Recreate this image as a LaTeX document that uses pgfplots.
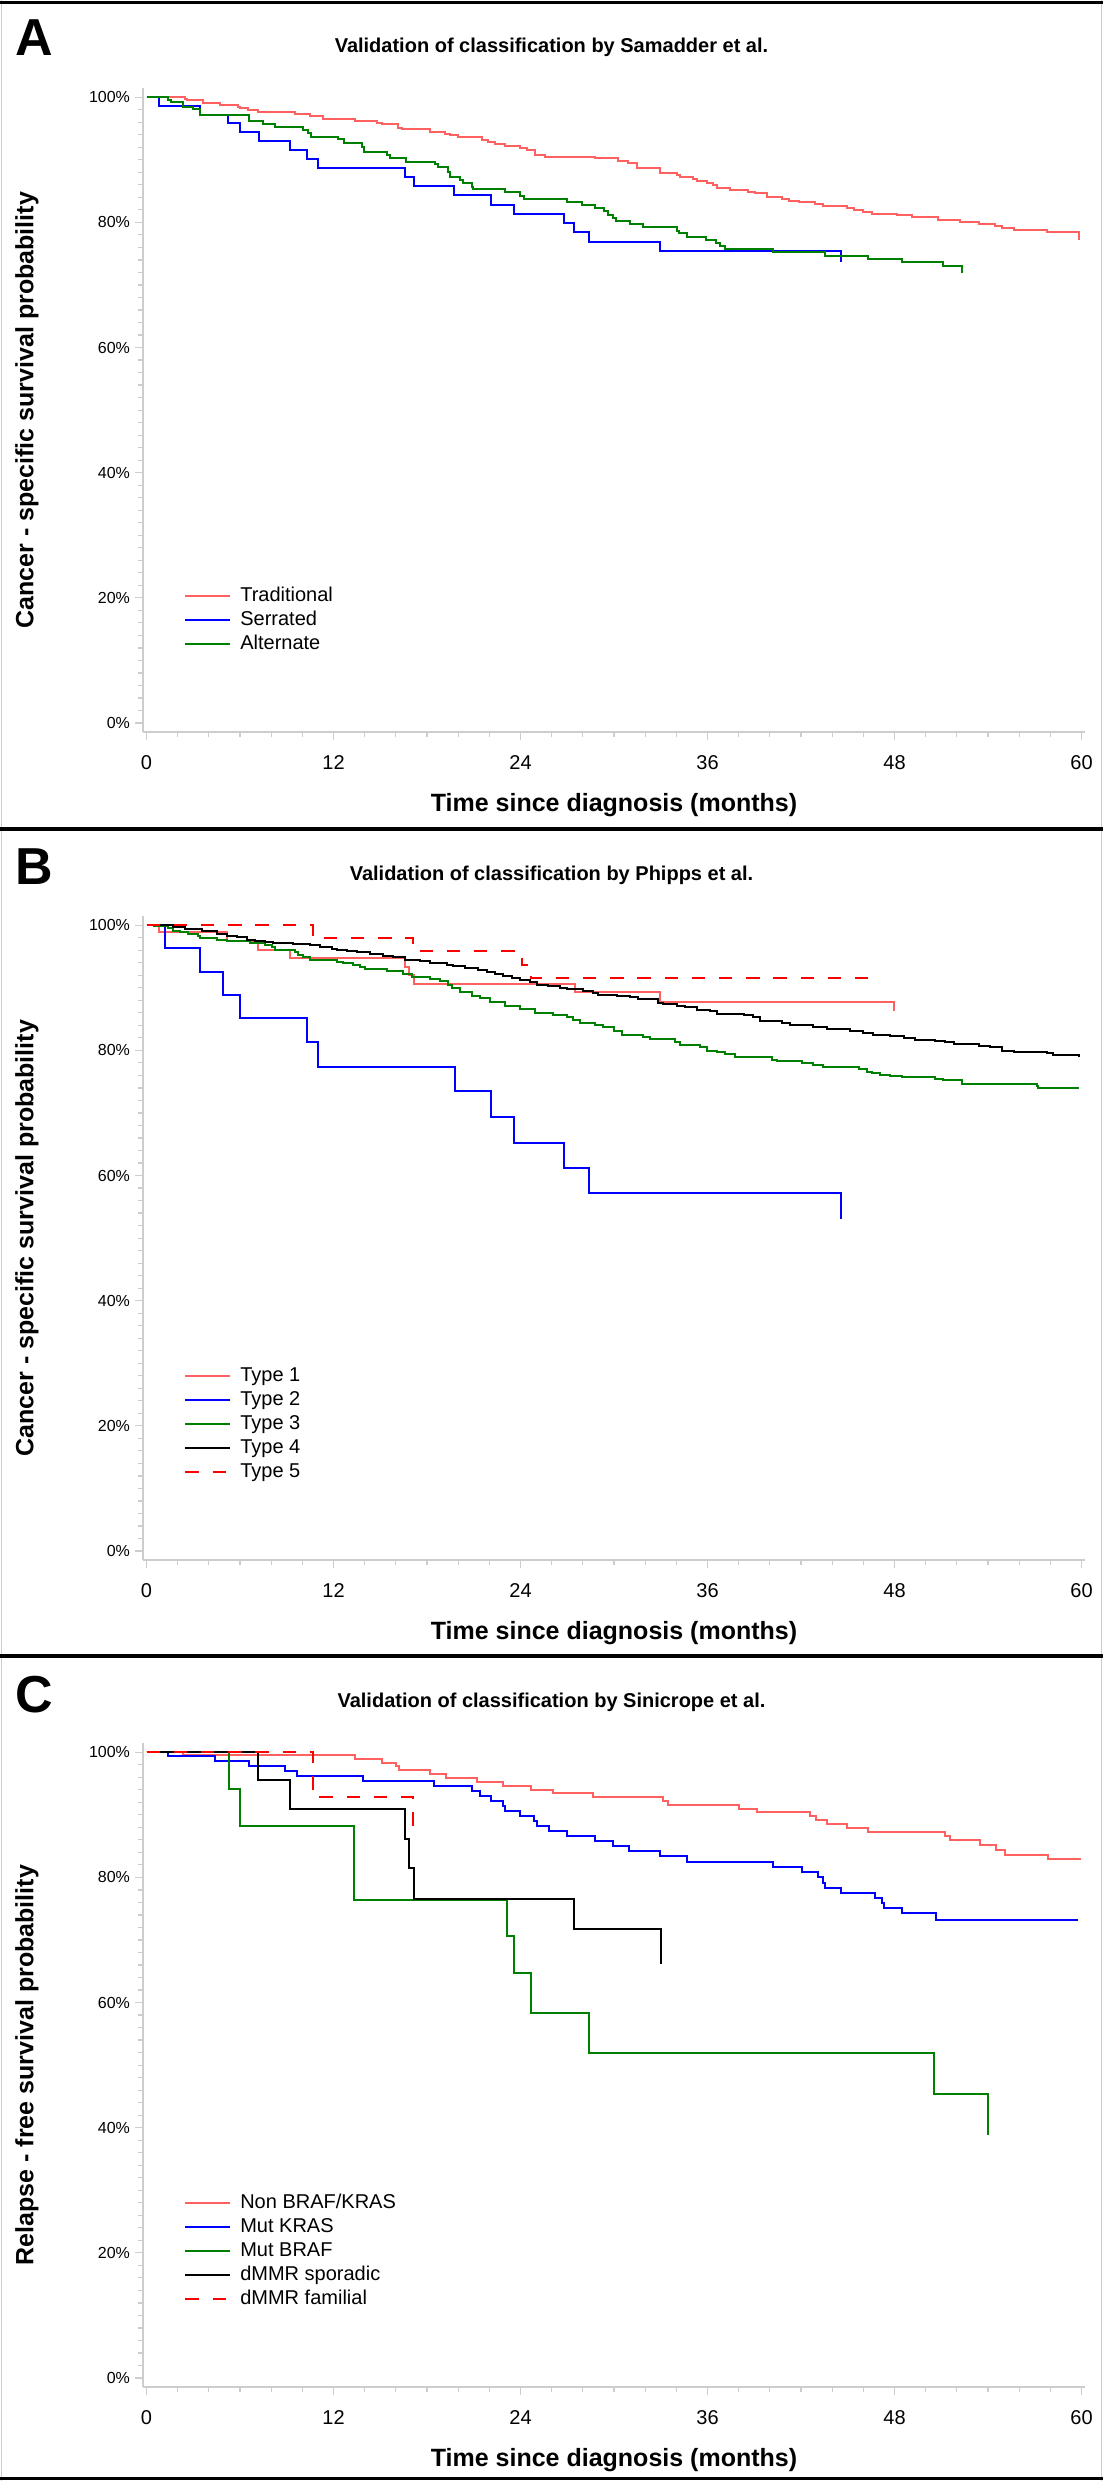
\documentclass[border=0pt]{standalone}
\usepackage{fontspec}
\setmainfont{Liberation Sans}
\usepackage{pgfplots}
\pgfplotsset{compat=1.18}

\definecolor{kmred}{RGB}{255,96,96}
\definecolor{kmblue}{RGB}{0,0,255}
\definecolor{kmgreen}{RGB}{0,128,0}
\definecolor{kmdash}{RGB}{255,0,0}
\definecolor{axgray}{RGB}{205,205,205}

\pgfplotsset{
  km/.style={
    scale only axis, width=471pt, height=321.9pt,
    xmin=-0.225, xmax=60.225, ymin=-1.44, ymax=101.44,
    axis x line*=bottom, axis y line*=left,
    axis line style={-, draw=axgray, line width=1pt},
    xtick={0,12,...,60}, minor x tick num=5,
    ytick={0,20,...,100}, minor y tick num=9,
    yticklabels={0\%,20\%,40\%,60\%,80\%,100\%},
    tick align=outside, major tick length=4pt, minor tick length=2.5pt,
    every tick/.style={draw=axgray, line width=0.6pt},
    /pgf/number format/assume math mode=true,
    x tick label style={font=\fontsize{10}{12}\selectfont, yshift=-4pt},
    y tick label style={font=\fontsize{8}{10}\selectfont, xshift=1pt},
    xlabel={Time since diagnosis (months)},
    xlabel style={font=\fontsize{12.5}{15}\selectfont\bfseries,
      at={([yshift=-36.5pt]axis description cs:0.5,0)}, anchor=center},
    ylabel style={font=\fontsize{12.5}{15}\selectfont\bfseries,
      at={([xshift=-58pt]axis description cs:0,0.5)}, anchor=center},
    every axis plot/.append style={const plot mark left, mark=none, line width=1pt},
    legend image code/.code={\draw[#1] (0pt,0pt) -- (22.5pt,0pt);},
    legend cell align=left,
    legend style={at={(axis cs:2.4,11)}, anchor=south west, draw=none, fill=none,
      inner sep=0pt, row sep=2pt, column sep=4.5pt,
      font=\fontsize{10}{12}\selectfont,
      nodes={inner sep=0pt, text height=8pt, text depth=2pt}},
  },
  dashkm/.style={kmdash, dash pattern=on 6.7pt off 6.9pt},
}

\begin{document}
\begin{tikzpicture}
\path[use as bounding box] (0,0) rectangle (551.5pt,-1240.5pt);
% panel frames
\draw[axgray, line width=0.6pt] (0.7pt,0) -- (0.7pt,-1240.5pt);
\draw[axgray, line width=0.6pt] (550.8pt,0) -- (550.8pt,-1240.5pt);
\foreach \yy in {-1.25pt,-414.5pt,-828pt,-1239.25pt}
  \draw[black, line width=1.75pt] (0,\yy) -- (551.5pt,\yy);
% panel letters and titles
\node[anchor=base west, inner sep=0pt, font=\fontsize{26}{30}\selectfont\bfseries] at (7.5pt,-27.5pt) {A};
\node[anchor=base west, inner sep=0pt, font=\fontsize{26}{30}\selectfont\bfseries] at (7.5pt,-442pt) {B};
\node[anchor=base west, inner sep=0pt, font=\fontsize{26}{30}\selectfont\bfseries] at (7.5pt,-856pt) {C};
\node[anchor=base, inner sep=0pt, font=\fontsize{10}{12}\selectfont\bfseries] at (275.75pt,-26pt) {Validation of classification by Samadder et al.};
\node[anchor=base, inner sep=0pt, font=\fontsize{10}{12}\selectfont\bfseries] at (275.75pt,-440pt) {Validation of classification by Phipps et al.};
\node[anchor=base, inner sep=0pt, font=\fontsize{10}{12}\selectfont\bfseries] at (275.75pt,-853.5pt) {Validation of classification by Sinicrope et al.};

% ---------------- A
\begin{axis}[km, at={(71.5pt,-366pt)}, anchor=south west,
  ylabel={Cancer - specific survival probability}]
\addplot[kmred] coordinates {
(0,100) (2.47,99.73) (2.58,99.57) (3.60,99.04) (4.72,98.77) (5.89,98.50) (6.00,98.34)
(6.54,97.97) (7.18,97.60) (9.53,97.33) (10.49,97.07) (11.31,96.53) (13.38,96.21)
(14.82,95.95) (15.09,95.68) (16.16,95.15) (16.42,94.88) (18.20,94.51) (19.16,94.19)
(19.48,93.98) (20.01,93.61) (21.51,93.18) (21.94,92.81) (22.37,92.49) (23.01,92.22)
(23.97,91.85) (24.40,91.58) (24.94,90.78) (25.58,90.52) (28.79,90.25) (30.28,89.88)
(30.93,89.56) (31.46,88.76) (32.96,87.85) (34.03,87.59) (34.24,87.32) (35.10,86.95)
(35.31,86.68) (35.95,86.36) (36.38,85.99) (36.59,85.56) (37.45,85.19) (38.63,84.92)
(39.06,84.66) (39.81,84.02) (40.77,83.75) (41.20,83.43) (41.84,83.22) (42.91,82.90)
(43.44,82.58) (44.94,82.26) (45.37,81.95) (46.01,81.68) (46.55,81.41) (48.15,81.15)
(49.11,80.83) (50.82,80.45) (52.21,80.13) (53.39,79.81) (54.46,79.49) (54.89,79.17)
(55.64,78.80) (57.78,78.48) (59.81,77.20)
};
\addlegendentry{Traditional}
\addplot[kmblue] coordinates {
(0,100) (0.82,98.61) (3.43,97.17) (5.21,95.84) (6.00,94.40) (7.20,93.02) (9.21,91.58)
(10.28,90.14) (11.03,88.71) (16.59,87.22) (17.19,85.78) (19.76,84.34) (22.11,82.85)
(23.59,81.36) (26.80,79.92) (27.46,78.43) (28.38,76.94) (32.96,75.45) (44.58,73.74)
};
\addlegendentry{Serrated}
\addplot[kmgreen] coordinates {
(0,100) (1.40,99.57) (1.55,99.20) (2.32,98.50) (3.01,98.13) (3.43,97.17) (6.60,96.21)
(7.50,95.68) (8.25,95.20) (10.02,94.78) (10.39,94.24) (10.54,93.71) (12.31,93.29)
(12.68,92.65) (13.81,92.11) (13.96,91.32) (15.42,90.78) (15.63,90.25) (16.63,89.72)
(18.52,89.29) (18.73,88.87) (19.37,88.12) (19.48,87.32) (20.12,86.79) (20.29,86.26)
(20.87,85.73) (20.98,85.30) (23.01,84.82) (23.97,84.29) (24.23,83.81) (26.97,83.33)
(27.93,82.85) (28.79,82.37) (29.36,81.84) (29.64,81.20) (29.96,80.77) (30.14,80.29)
(31.03,79.81) (31.89,79.23) (34.03,78.69) (34.20,78.27) (34.67,77.73) (35.89,77.20)
(36.55,76.72) (36.77,76.24) (37.13,75.76) (40.19,75.22) (43.55,74.70) (46.27,74.17)
(48.49,73.63) (51.14,73.10) (52.36,71.88)
};
\addlegendentry{Alternate}
\end{axis}

% ---------------- B
\begin{axis}[km, at={(71.5pt,-780pt)}, anchor=south west,
  ylabel={Cancer - specific survival probability}]
\addplot[kmred] coordinates {
(0,100) (0.82,98.86) (5.19,97.53) (7.18,96.09) (9.21,94.71) (16.59,93.38) (16.87,92.05)
(17.17,90.61) (27.50,89.28) (32.96,87.79) (47.94,86.25)
};
\addlegendentry{Type 1}
\addplot[kmblue] coordinates {
(0,100) (1.19,96.36) (3.43,92.58) (4.89,88.91) (6.00,85.18) (10.32,81.35) (11.03,77.42)
(19.80,73.43) (22.09,69.33) (23.59,65.24) (26.80,61.19) (28.38,57.20) (44.58,53.00)
};
\addlegendentry{Type 2}
\addplot[kmgreen] coordinates {
(0,100) (0.5,99.81) (1.40,99.49) (1.72,99.12) (2.15,98.86) (2.68,98.59) (3.33,98.22)
(3.43,97.90) (4.50,97.69) (5.19,97.47) (6.64,97.15) (7.61,96.84) (8.03,96.46) (8.25,96.09)
(9.53,95.66) (9.75,95.24) (10.07,94.87) (10.49,94.44) (12.21,94.17) (12.63,93.91)
(13.28,93.64) (13.70,93.27) (14.02,93.00) (15.42,92.63) (16.48,92.21) (17.02,91.73)
(18.20,91.41) (18.84,91.04) (19.37,90.50) (19.59,89.97) (20.12,89.28) (20.87,88.75)
(21.41,88.38) (22.05,87.79) (23.01,87.15) (23.97,86.62) (24.94,85.93) (26.11,85.66)
(26.97,85.40) (27.40,84.92) (27.82,84.39) (28.79,84.12) (29.32,83.69) (30.00,83.11)
(30.50,82.52) (31.89,82.10) (32.32,81.78) (33.92,81.30) (34.24,80.93) (35.53,80.50)
(35.95,79.97) (36.59,79.70) (37.13,79.39) (37.77,78.96) (40.13,78.53) (40.45,78.27)
(42.05,78.06) (42.80,77.74) (43.44,77.37) (45.69,77.05) (46.22,76.62) (46.55,76.35)
(47.08,76.14) (47.72,75.98) (48.47,75.77) (50.61,75.50) (51.14,75.34) (52.36,74.60)
(57.14,74.28) (57.24,74.01) (59.87,74.01)
};
\addlegendentry{Type 3}
\addplot[black] coordinates {
(0,100) (1.72,99.76) (2.47,99.39) (3.54,99.02) (4.50,98.59) (5.15,98.22) (5.79,98.06)
(6.43,97.69) (6.96,97.53) (7.61,97.26) (8.14,97.10) (9.42,96.99) (10.49,96.84)
(11.14,96.57) (11.89,96.20) (12.21,96.04) (12.85,95.82) (13.49,95.66) (14.35,95.40)
(15.20,95.13) (15.84,94.87) (16.59,94.49) (17.55,94.23) (18.20,93.91) (19.27,93.64)
(19.69,93.43) (20.44,93.16) (21.30,92.90) (21.83,92.47) (22.37,92.21) (22.90,91.94)
(23.44,91.62) (23.97,91.30) (24.61,90.88) (25.04,90.50) (25.79,90.24) (26.54,89.97)
(26.97,89.81) (28.04,89.44) (28.68,89.12) (29.00,88.91) (30.18,88.75) (31.03,88.48)
(31.57,88.22) (32.85,87.58) (33.17,87.37) (34.03,87.15) (34.56,86.89) (35.31,86.51)
(36.17,86.25) (36.59,85.88) (38.31,85.66) (38.95,85.29) (39.38,84.76) (40.77,84.39)
(41.30,84.07) (42.80,83.69) (43.66,83.38) (45.15,83.06) (46.01,82.79) (46.65,82.52)
(47.72,82.26) (48.58,82.05) (49.33,81.73) (50.61,81.57) (51.25,81.30) (51.79,81.09)
(53.39,80.77) (54.14,80.50) (54.89,79.97) (55.64,79.81) (57.78,79.55) (58.20,79.33)
(59.81,78.91)
};
\addlegendentry{Type 4}
\addplot[dashkm] coordinates {
(0,100) (10.67,97.90) (17.13,95.82) (24.08,93.64) (24.66,91.51) (46.55,90.34)
};
\addlegendentry{Type 5}
\end{axis}

% ---------------- C
\begin{axis}[km, at={(71.5pt,-1193.5pt)}, anchor=south west,
  ylabel={Relapse - free survival probability}]
\addplot[kmred] coordinates {
(0,100) (2.36,99.52) (13.38,98.88) (15.09,98.30) (16.01,97.76) (16.23,97.12) (18.20,96.49)
(19.22,95.90) (21.19,95.26) (22.90,94.68) (24.66,94.04) (26.11,93.50) (28.68,92.86)
(33.17,92.23) (33.49,91.64) (37.99,91.00) (39.16,90.42) (42.59,89.78) (42.97,89.14)
(43.70,88.50) (44.98,87.86) (46.27,87.22) (51.25,86.58) (51.57,85.94) (53.46,85.14)
(54.50,84.45) (55.10,83.65) (57.88,82.91) (59.96,82.91)
};
\addlegendentry{Non BRAF/KRAS}
\addplot[kmblue] coordinates {
(0,100) (1.40,99.36) (4.40,98.56) (6.60,97.76) (8.89,96.96) (9.68,96.22) (13.87,95.42)
(18.47,94.62) (20.87,93.82) (21.41,93.08) (22.09,92.23) (22.90,91.37) (23.01,90.63)
(23.97,89.78) (24.87,89.03) (25.09,88.18) (25.86,87.43) (26.97,86.63) (28.79,85.84)
(29.92,84.98) (30.99,84.19) (32.96,83.39) (34.67,82.53) (40.23,81.68) (42.05,80.88)
(43.06,80.08) (43.44,79.18) (43.55,78.38) (44.56,77.53) (46.76,76.73) (47.19,75.88)
(47.34,75.08) (48.47,74.23) (50.65,73.27) (59.77,73.27)
};
\addlegendentry{Mut KRAS}
\addplot[kmgreen] coordinates {
(0,100) (5.30,94.09) (6.00,88.23) (13.32,76.46) (23.12,70.61) (23.59,64.75) (24.68,58.25)
(28.40,51.86) (50.55,45.37) (53.97,38.82)
};
\addlegendentry{Mut BRAF}
\addplot[black] coordinates {
(0,100) (7.18,95.53) (9.21,91.00) (16.59,86.21) (16.87,81.52) (17.19,76.57) (27.46,71.83)
(33.00,66.13)
};
\addlegendentry{dMMR sporadic}
\addplot[dashkm] coordinates {
(0,100) (10.67,92.86) (17.08,87.27)
};
\addlegendentry{dMMR familial}
\end{axis}
\end{tikzpicture}
\end{document}
